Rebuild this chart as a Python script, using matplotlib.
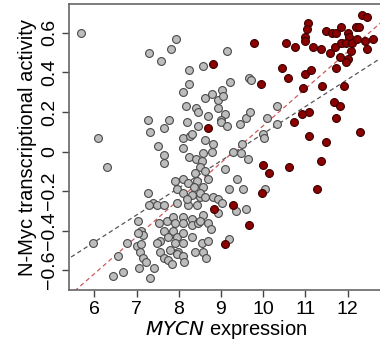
import matplotlib
matplotlib.use('Agg')
import matplotlib.pyplot as plt
import numpy as np

plt.rcParams['font.family'] = ['Liberation Sans', 'DejaVu Sans']

# grey samples (MYCN expression, N-Myc activity)
grey_x = [5.69, 6.09, 6.31, 5.98, 6.45, 6.57, 6.69, 6.78, 7.00, 7.04, 7.11, 7.16, 7.04, 7.11, 7.09,
          7.16, 7.23, 7.07, 7.33, 7.42, 7.56, 7.54,
          7.30, 7.59, 7.82, 7.94, 8.25, 8.09, 8.25, 8.18, 7.26, 7.33, 7.64, 7.78, 8.20, 7.52, 8.09,
          8.27, 7.66, 8.11, 8.25, 7.66,
          9.15, 8.58, 9.22, 9.67, 8.63, 8.80, 9.03, 8.94, 9.06, 8.42, 8.94, 8.46, 8.70, 9.10, 9.60,
          9.70, 9.01, 8.46, 8.99, 9.15, 9.44, 8.32, 8.63, 8.82, 8.58, 8.80, 9.29, 9.51, 9.48, 9.63,
          8.42, 8.56, 8.51, 8.39, 8.63, 9.10, 9.39, 7.92, 8.09, 7.97, 8.23, 8.44, 8.35, 8.58, 8.70,
          8.11, 8.32, 8.51, 8.82, 8.94, 9.03, 9.20, 9.53, 7.40, 7.30, 7.49, 7.64, 7.28, 8.23, 8.44,
          7.97, 8.20, 8.51, 8.63, 9.36, 9.60, 8.94,
          7.73, 7.87, 8.09, 7.92, 8.11, 8.32, 8.32, 8.46, 8.58, 8.51, 8.70, 8.77, 7.64, 7.87, 7.75,
          7.97, 8.11, 8.11, 8.32, 7.92, 7.80, 7.99, 7.49, 7.56, 7.64, 7.75, 7.85, 7.97, 8.11, 8.13,
          8.39, 8.58, 8.56, 8.70, 8.65, 9.20, 10.05,
          9.72, 10.34, 10.10, 10.34, 10.00, 10.03, 11.87]
grey_y = [0.60, 0.07, -0.08, -0.46, -0.63, -0.53, -0.61, -0.46, -0.48, -0.35, -0.40, -0.42, -0.41, -0.47, -0.51,
          -0.54, -0.56, -0.59, -0.64, -0.59, -0.45, -0.36,
          0.50, 0.46, 0.52, 0.57, 0.41, 0.30, 0.34, 0.23, 0.16, 0.10, 0.12, 0.16, 0.15, 0.03, 0.07,
          0.08, -0.02, 0.02, -0.03, -0.06,
          0.51, 0.43, 0.35, 0.37, 0.27, 0.29, 0.31, 0.26, 0.28, 0.22, 0.22, 0.20, 0.18, 0.19, 0.17,
          0.20, 0.16, 0.13, 0.15, 0.13, 0.14, 0.09, 0.06, 0.04, -0.01, 0.00, 0.00, 0.04, -0.01, -0.04,
          -0.04, -0.05, -0.08, -0.11, -0.10, -0.09, -0.14, -0.15, -0.14, -0.19, -0.16, -0.15, -0.18, -0.18, -0.14,
          -0.21, -0.22, -0.23, -0.23, -0.24, -0.26, -0.19, -0.19, -0.26, -0.27, -0.27, -0.27, -0.21, -0.27, -0.27,
          -0.26, -0.24, -0.21, -0.23, -0.30, -0.29, -0.31,
          -0.35, -0.33, -0.33, -0.36, -0.36, -0.34, -0.37, -0.36, -0.32, -0.35, -0.36, -0.39, -0.40, -0.40, -0.43,
          -0.43, -0.41, -0.46, -0.43, -0.46, -0.50, -0.51, -0.46, -0.51, -0.54, -0.55, -0.57, -0.52, -0.53, -0.56,
          -0.51, -0.51, -0.46, -0.45, -0.54, -0.44, -0.19,
          0.36, 0.23, 0.17, 0.14, 0.09, 0.07, 0.55]

# red samples
red_x = [8.82, 8.70, 9.79, 10.55, 10.76, 10.98, 10.98, 11.07, 11.05, 11.19, 11.36, 11.50, 11.64, 11.73,
         11.85, 12.00, 12.04, 12.21, 12.26, 12.35, 12.45, 11.59, 11.71, 11.85, 11.97, 12.11, 12.23, 12.42,
         12.61, 12.07, 12.45, 11.83, 12.02, 11.97, 10.45, 10.60, 11.00, 11.14, 11.73, 9.96, 10.95, 11.40,
         11.92, 10.91, 11.09, 10.74, 11.69, 11.81, 11.73, 12.30, 11.09, 11.50, 11.38, 10.00, 10.15, 10.62,
         11.28, 9.98, 8.84, 9.29, 9.67, 9.10]
red_y = [0.44, 0.12, 0.55, 0.55, 0.53, 0.58, 0.56, 0.65, 0.62, 0.53, 0.52, 0.61, 0.60, 0.60,
         0.63, 0.60, 0.58, 0.63, 0.63, 0.69, 0.68, 0.50, 0.53, 0.55, 0.55, 0.55, 0.57, 0.56,
         0.57, 0.51, 0.52, 0.48, 0.47, 0.45, 0.42, 0.37, 0.39, 0.41, 0.42, 0.34, 0.32, 0.33,
         0.33, 0.19, 0.20, 0.15, 0.25, 0.23, 0.17, 0.10, 0.08, 0.05, -0.05, -0.07, -0.11, -0.08,
         -0.19, -0.21, -0.29, -0.27, -0.37, -0.47]

# fitted lines (slope, intercept)
grey_fit = [0.137, -1.28]
red_fit = [0.187, -1.74]

fig = plt.figure(figsize=(3.8, 3.44), dpi=100)
ax = fig.add_axes([0.1816, 0.157, 0.8274, 0.831])

xx = np.array([5.0, 13.5])
ax.plot(xx, grey_fit[0] * xx + grey_fit[1], ls=(0, (3.5, 2.5)), color='#555555', lw=0.9, zorder=1)
ax.plot(xx, red_fit[0] * xx + red_fit[1], ls=(0, (3.5, 2.5)), color='#cc5a5a', lw=0.9, zorder=1)

ax.scatter(grey_x, grey_y, s=32, facecolor='#bdbdbd', edgecolor='#4a4a4a', linewidth=0.8, zorder=2)
ax.scatter(red_x, red_y, s=32, facecolor='#8b0000', edgecolor='#3a0000', linewidth=0.8, zorder=3)

ax.set_xlim(5.4, 12.85)
ax.set_ylim(-0.70, 0.745)
ax.set_xticks([6, 7, 8, 9, 10, 11, 12])
ax.set_yticks([-0.6, -0.4, -0.2, 0, 0.2, 0.4, 0.6])
ax.set_yticklabels(['\u22120.6', '\u22120.4', '\u22120.2', '0', '0.2', '0.4', '0.6'],
                   rotation=90, va='center')
ax.tick_params(labelsize=14, length=5, width=1, color='#444444', pad=3)

for s in ax.spines.values():
    s.set_color('#666666')
    s.set_linewidth(1.2)

ax.set_xlabel('$\\it{MYCN}$ expression', fontsize=14.5, labelpad=0)
ax.set_ylabel('N-Myc transcriptional activity', fontsize=14.5, labelpad=3)

fig.savefig('out.png', dpi=100)
